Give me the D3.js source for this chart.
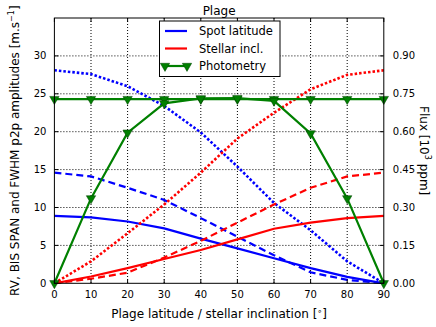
<!DOCTYPE html>
<html><head><meta charset="utf-8">
<script src="https://cdn.jsdelivr.net/npm/d3@7"></script>
<style>
body{margin:0;background:#fff;}
text{font-family:"DejaVu Sans",sans-serif;}
</style></head>
<body><svg id="c" width="436" height="327"></svg>
<script>
const angles = [0,10,20,30,40,50,60,70,80,90];
// Spot latitude (blue): RV, BIS SPAN, FWHM p2p amplitudes [m/s]
const spotRV   = [8.9, 8.7, 8.15, 7.25, 5.9, 4.6, 3.3, 2.0, 0.85, 0];
const spotBIS  = [14.6, 14.1, 12.6, 11.0, 8.6, 6.15, 3.7, 1.45, 0.45, 0];
const spotFWHM = [28.1, 27.6, 26.0, 23.4, 19.9, 15.4, 10.6, 7.0, 2.9, 0];
// Stellar inclination (red)
const inclRV   = [0, 0.9, 2.0, 3.2, 4.4, 5.8, 7.2, 8.0, 8.6, 8.9];
const inclBIS  = [0, 0.6, 1.4, 3.4, 5.6, 8.0, 10.4, 12.6, 14.1, 14.6];
const inclFWHM = [0, 2.9, 6.6, 10.4, 14.6, 19.1, 22.5, 25.6, 27.5, 28.1];
// Photometry (green) [10^3 ppm]
const photSpot = [0.729, 0.729, 0.729, 0.729, 0.729, 0.729, 0.729, 0.729, 0.729, 0.729];
const photIncl = [0, 0.336, 0.596, 0.712, 0.732, 0.733, 0.722, 0.593, 0.336, 0];
const leftTicks = [0,5,10,15,20,25,30];
const rightTicks = [0,0.15,0.30,0.45,0.60,0.75,0.90];
const xTicks = [0,10,20,30,40,50,60,70,80,90];

const svg = d3.select("#c");
const L=54.4, R=383.8, T=18, B=283.3;
const x = d3.scaleLinear().domain([0,90]).range([L,R]);
const y = d3.scaleLinear().domain([0,35]).range([B,T]);
const y2 = d3.scaleLinear().domain([0,1.05]).range([B,T]);

// grid
const g = svg.append("g");
g.selectAll(".gx").data(xTicks.slice(1,-1)).enter().append("line")
 .attr("x1",d=>x(d)).attr("x2",d=>x(d)).attr("y1",T).attr("y2",B)
 .attr("stroke","#000").attr("stroke-width",1).attr("stroke-dasharray","1,2");
g.selectAll(".gy").data(leftTicks.slice(1)).enter().append("line")
 .attr("y1",d=>y(d)).attr("y2",d=>y(d)).attr("x1",L).attr("x2",R)
 .attr("stroke","#000").attr("stroke-width",1).attr("stroke-dasharray","1,2");

const styles = {solid:null, dashed:"7,4", dotted:"2.5,2"};
const line = (ys, sc) => d3.line().x((d,i)=>x(angles[i])).y(d=>sc(d))(ys);
function draw(ys, sc, col, dash){
  svg.append("path").attr("d", line(ys, sc)).attr("fill","none")
   .attr("stroke", col).attr("stroke-width", dash===styles.dotted ? 2.6 : 2.2)
   .attr("stroke-dasharray", dash);
}
draw(spotRV, y, "#0000ff", styles.solid);
draw(spotBIS, y, "#0000ff", styles.dashed);
draw(spotFWHM, y, "#0000ff", styles.dotted);
draw(inclRV, y, "#ff0000", styles.solid);
draw(inclBIS, y, "#ff0000", styles.dashed);
draw(inclFWHM, y, "#ff0000", styles.dotted);

const tri = d3.symbol().type(d3.symbolTriangle).size(38);
function drawPhot(ys){
  svg.append("path").attr("d", line(ys, y2)).attr("fill","none")
   .attr("stroke","#008000").attr("stroke-width",2.2);
  svg.append("g").selectAll("path").data(ys).enter().append("path")
   .attr("d", tri).attr("transform",(d,i)=>`translate(${x(angles[i])},${y2(d)}) rotate(180)`)
   .attr("fill","#008000").attr("stroke","#004000").attr("stroke-width",0.5);
}
drawPhot(photSpot);
drawPhot(photIncl);

// frame
svg.append("rect").attr("x",L).attr("y",T).attr("width",R-L).attr("height",B-T)
 .attr("fill","none").attr("stroke","#000").attr("stroke-width",1);

// ticks
const tk = svg.append("g").attr("stroke","#000").attr("stroke-width",1);
xTicks.forEach(d=>{
  tk.append("line").attr("x1",x(d)).attr("x2",x(d)).attr("y1",B).attr("y2",B-4);
  tk.append("line").attr("x1",x(d)).attr("x2",x(d)).attr("y1",T).attr("y2",T+4);
});
leftTicks.forEach(d=>{
  tk.append("line").attr("x1",L).attr("x2",L+4).attr("y1",y(d)).attr("y2",y(d));
});
rightTicks.forEach(d=>{
  tk.append("line").attr("x1",R).attr("x2",R-4).attr("y1",y2(d)).attr("y2",y2(d));
});

const fs = 10;
svg.append("g").selectAll("text").data(xTicks).enter().append("text")
 .attr("x",d=>x(d)).attr("y",B+15).attr("text-anchor","middle").attr("font-size",fs).text(d=>d);
svg.append("g").selectAll("text").data(leftTicks).enter().append("text")
 .attr("x",L-8).attr("y",d=>y(d)+3.5).attr("text-anchor","end").attr("font-size",fs).text(d=>d);
svg.append("g").selectAll("text").data(rightTicks).enter().append("text")
 .attr("x",R+9).attr("y",d=>y2(d)+3.5).attr("text-anchor","start").attr("font-size",fs).text(d=>d.toFixed(2));

// labels
svg.append("text").attr("x",(L+R)/2).attr("y",15).attr("text-anchor","middle").attr("font-size",12).text("Plage");
const xl = svg.append("text").attr("x",(L+R)/2).attr("y",318).attr("text-anchor","middle").attr("font-size",12);
xl.append("tspan").text("Plage latitude / stellar inclination [");
xl.append("tspan").attr("dy",-4).attr("font-size",8).text("∘");
xl.append("tspan").attr("dy",4).text("]");
const yl = svg.append("text").attr("transform",`translate(19,${(T+B)/2}) rotate(-90)`).attr("text-anchor","middle").attr("font-size",12);
yl.append("tspan").text("RV, BIS SPAN and FWHM p2p amplitudes [m.s");
yl.append("tspan").attr("dy",-5).attr("font-size",8).text("−1");
yl.append("tspan").attr("dy",5).text("]");
const yr = svg.append("text").attr("transform",`translate(420,${(T+B)/2}) rotate(90)`).attr("text-anchor","middle").attr("font-size",12);
yr.append("tspan").text("Flux [10");
yr.append("tspan").attr("dy",-5).attr("font-size",8).text("3");
yr.append("tspan").attr("dy",5).text(" ppm]");

// legend
const lg = svg.append("g");
lg.append("rect").attr("x",159.5).attr("y",21).attr("width",120.5).attr("height",55.5)
 .attr("fill","#fff").attr("stroke","#000").attr("stroke-width",1);
const items = [["Spot latitude","#0000ff",false],["Stellar incl.","#ff0000",false],["Photometry","#008000",true]];
items.forEach((it,i)=>{
  const yy = 31 + i*17.5;
  lg.append("line").attr("x1",165).attr("x2",187).attr("y1",yy).attr("y2",yy).attr("stroke",it[1]).attr("stroke-width",2.2);
  if(it[2]){
    [165,187].forEach(xx=>lg.append("path").attr("d",tri).attr("transform",`translate(${xx},${yy}) rotate(180)`)
      .attr("fill","#008000").attr("stroke","#004000").attr("stroke-width",0.5));
  }
  lg.append("text").attr("x",199).attr("y",yy+4).attr("font-size",11.5).text(it[0]);
});
</script></body></html>
